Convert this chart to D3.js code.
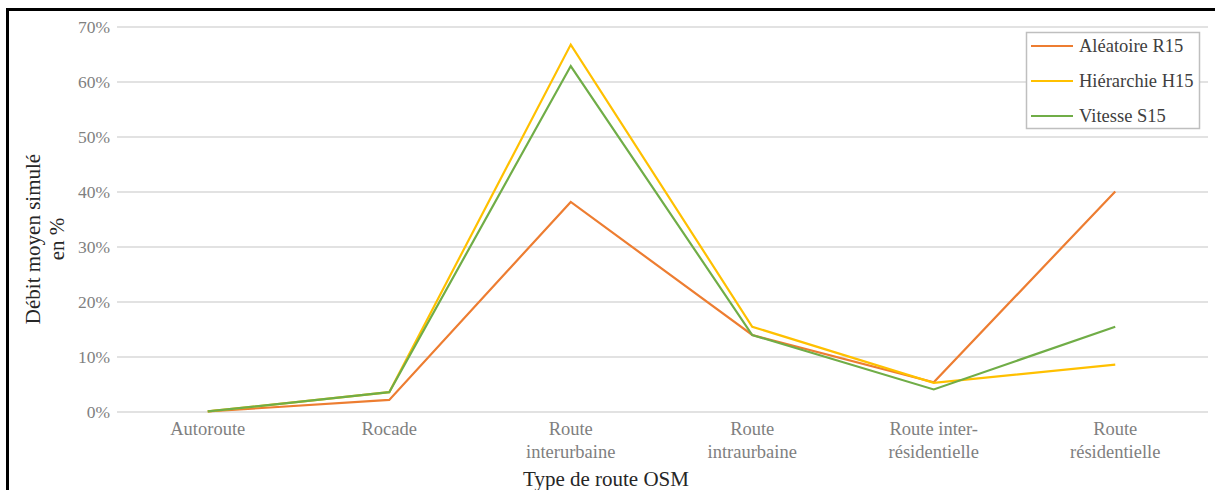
<!DOCTYPE html>
<html><head><meta charset="utf-8">
<script src="https://cdn.jsdelivr.net/npm/d3@7"></script>
<style>body{margin:0;background:#fff}svg{display:block}</style>
</head><body>
<svg id="c" width="1215" height="490"></svg>
<script>
const categories = [["Autoroute"],["Rocade"],["Route","interurbaine"],["Route","intraurbaine"],["Route inter-","résidentielle"],["Route","résidentielle"]];
const seriesNames = ["Aléatoire R15","Hiérarchie H15","Vitesse S15"];
const seriesColors = ["#ED7D31","#FFC000","#70AD47"];
const aleatoire = [0.1, 2.2, 38.2, 14.0, 5.4, 40.1];
const hierarchie = [0.1, 3.6, 66.8, 15.5, 5.3, 8.6];
const vitesse = [0.1, 3.6, 62.9, 14.0, 4.1, 15.5];
const yTicks = [0,10,20,30,40,50,60,70];

const values = [aleatoire, hierarchie, vitesse];
const font = "'Liberation Serif', 'DejaVu Serif', serif";
const svg = d3.select("#c");

const x = d3.scaleBand().domain(d3.range(categories.length)).range([117,1206]);
const y = d3.scaleLinear().domain([0,70]).range([412,27]);

// gridlines
svg.append("g").selectAll("line").data(yTicks).join("line")
  .attr("x1",117).attr("x2",1208).attr("y1",d=>y(d)).attr("y2",d=>y(d))
  .attr("stroke","#d9d9d9").attr("stroke-width",1.3);

// y tick labels
svg.append("g").selectAll("text").data(yTicks).join("text")
  .attr("x",110).attr("y",d=>y(d)+6).attr("text-anchor","end")
  .attr("font-family",font).attr("font-size",17.5).attr("fill","#7f7f7f")
  .text(d=>d+"%");

// x labels
const xl = svg.append("g").selectAll("text").data(categories).join("text")
  .attr("x",(d,i)=>x(i)+x.bandwidth()/2).attr("y",435).attr("text-anchor","middle")
  .attr("font-family",font).attr("font-size",18.5).attr("fill","#7f7f7f");
xl.each(function(d){
  const t=d3.select(this);
  d.forEach((s,k)=>t.append("tspan").attr("x",t.attr("x")).attr("dy",k===0?0:23).text(s));
});

// lines
const line = d3.line().x((d,i)=>x(i)+x.bandwidth()/2).y(d=>y(d));
svg.append("g").selectAll("path").data(values).join("path")
  .attr("d",line).attr("fill","none").attr("stroke",(d,i)=>seriesColors[i])
  .attr("stroke-width",2.2).attr("stroke-linejoin","miter");

// axis titles
svg.append("text").attr("x",606).attr("y",486).attr("text-anchor","middle")
  .attr("font-family",font).attr("font-size",21).attr("fill","#262626").text("Type de route OSM");
const yt = svg.append("text").attr("transform","translate(40,239) rotate(-90)").attr("text-anchor","middle")
  .attr("font-family",font).attr("font-size",21).attr("fill","#262626");
yt.append("tspan").attr("x",0).attr("dy",0).text("Débit moyen simulé");
yt.append("tspan").attr("x",0).attr("dy",24).text("en %");

// legend
const lg = svg.append("g");
lg.append("rect").attr("x",1026.5).attr("y",32.5).attr("width",173).attr("height",96)
  .attr("fill","#fff").attr("stroke","#bfbfbf").attr("stroke-width",1.5);
const items = lg.selectAll("g").data(seriesNames).join("g")
  .attr("transform",(d,i)=>`translate(0,${46+i*35})`);
items.append("line").attr("x1",1031).attr("x2",1073).attr("y1",0).attr("y2",0)
  .attr("stroke",(d,i)=>seriesColors[i]).attr("stroke-width",2.2);
items.append("text").attr("x",1079).attr("y",6).attr("font-family",font).attr("font-size",18.5)
  .attr("fill","#404040").text(d=>d);

// frame (top and left)
svg.append("path").attr("d","M7.5,490 V9.5 H1215").attr("fill","none").attr("stroke","#000").attr("stroke-width",3);
</script>
</body></html>
